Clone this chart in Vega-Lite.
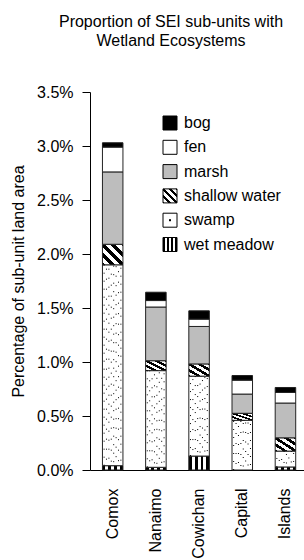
{
  "$schema": "https://vega.github.io/schema/vega-lite/v6.json",
  "autosize": "none",
  "width": 214,
  "height": 378,
  "padding": {"left": 90, "top": 92, "right": 0, "bottom": 90},
  "background": "white",
  "title": {
    "text": ["Proportion of SEI sub-units with", "Wetland Ecosystems"],
    "font": "Liberation Sans",
    "fontSize": 16,
    "fontWeight": "normal",
    "color": "black",
    "anchor": "middle",
    "frame": "group",
    "dx": -26,
    "offset": 35,
    "lineHeight": 19
  },
  "config": {
    "view": {"stroke": null},
    "axis": {
      "labelFont": "Liberation Sans",
      "labelFontSize": 16,
      "labelColor": "black",
      "titleFont": "Liberation Sans",
      "titleFontSize": 16,
      "titleFontWeight": "normal",
      "titleColor": "black",
      "domainColor": "black",
      "tickColor": "black",
      "grid": false
    },
    "legend": {
      "labelFont": "Liberation Sans",
      "labelFontSize": 16,
      "labelColor": "black"
    }
  },
  "data": {
    "values": [
      {"unit": "Comox", "type": "wet meadow", "value": 0.04},
      {"unit": "Comox", "type": "swamp", "value": 1.86},
      {"unit": "Comox", "type": "shallow water", "value": 0.19},
      {"unit": "Comox", "type": "marsh", "value": 0.67},
      {"unit": "Comox", "type": "fen", "value": 0.23},
      {"unit": "Comox", "type": "bog", "value": 0.04},
      {"unit": "Nanaimo", "type": "wet meadow", "value": 0.025},
      {"unit": "Nanaimo", "type": "swamp", "value": 0.895},
      {"unit": "Nanaimo", "type": "shallow water", "value": 0.092},
      {"unit": "Nanaimo", "type": "marsh", "value": 0.497},
      {"unit": "Nanaimo", "type": "fen", "value": 0.06},
      {"unit": "Nanaimo", "type": "bog", "value": 0.077},
      {"unit": "Cowichan", "type": "wet meadow", "value": 0.129},
      {"unit": "Cowichan", "type": "swamp", "value": 0.74},
      {"unit": "Cowichan", "type": "shallow water", "value": 0.113},
      {"unit": "Cowichan", "type": "marsh", "value": 0.347},
      {"unit": "Cowichan", "type": "fen", "value": 0.068},
      {"unit": "Cowichan", "type": "bog", "value": 0.077},
      {"unit": "Capital", "type": "swamp", "value": 0.46},
      {"unit": "Capital", "type": "shallow water", "value": 0.065},
      {"unit": "Capital", "type": "marsh", "value": 0.178},
      {"unit": "Capital", "type": "fen", "value": 0.129},
      {"unit": "Capital", "type": "bog", "value": 0.043},
      {"unit": "Islands", "type": "wet meadow", "value": 0.028},
      {"unit": "Islands", "type": "swamp", "value": 0.147},
      {"unit": "Islands", "type": "shallow water", "value": 0.123},
      {"unit": "Islands", "type": "marsh", "value": 0.322},
      {"unit": "Islands", "type": "fen", "value": 0.098},
      {"unit": "Islands", "type": "bog", "value": 0.046}
    ]
  },
  "transform": [
    {"stack": "value", "groupby": ["unit"], "sort": [{"field": "type", "order": "descending"}], "as": ["v0", "v1"]}
  ],
  "encoding": {
    "x": {
      "field": "unit",
      "type": "nominal",
      "sort": ["Comox", "Nanaimo", "Cowichan", "Capital", "Islands"],
      "scale": {"paddingInner": 0.525, "paddingOuter": 0.24, "align": 0.6},
      "axis": {"title": null, "labelAngle": -90, "ticks": false, "labelPadding": 18, "domainWidth": 1}
    },
    "y": {
      "field": "v0",
      "type": "quantitative",
      "scale": {"domain": [0, 3.5], "nice": false, "zero": true},
      "axis": {
        "title": "Percentage of sub-unit land area",
        "values": [0, 0.5, 1, 1.5, 2, 2.5, 3, 3.5],
        "labelExpr": "format(datum.value, '.1f') + '%'",
        "tickSize": 8,
        "labelPadding": 9,
        "titlePadding": 10
      }
    },
    "y2": {"field": "v1"}
  },
  "layer": [
    {
      "mark": {"type": "bar", "stroke": "#222", "strokeWidth": 1},
      "encoding": {
        "color": {
          "condition": {"test": "datum.type === 'swamp'", "value": "white"},
          "field": "type",
          "type": "nominal",
          "scale": {
            "domain": ["bog", "fen", "marsh", "shallow water", "swamp", "wet meadow"],
            "range": [
              "black",
              "white",
              "#bdbdbd",
              {"expr": "{gradient: 'linear', x1: 0, y1: 1, x2: 1, y2: 0, stops: [{offset: 0, color: 'black'}, {offset: 0.06, color: 'black'}, {offset: 0.06, color: 'white'}, {offset: 0.19, color: 'white'}, {offset: 0.19, color: 'black'}, {offset: 0.31, color: 'black'}, {offset: 0.31, color: 'white'}, {offset: 0.44, color: 'white'}, {offset: 0.44, color: 'black'}, {offset: 0.56, color: 'black'}, {offset: 0.56, color: 'white'}, {offset: 0.69, color: 'white'}, {offset: 0.69, color: 'black'}, {offset: 0.81, color: 'black'}, {offset: 0.81, color: 'white'}, {offset: 0.94, color: 'white'}, {offset: 0.94, color: 'black'}, {offset: 1, color: 'black'}]}"},
              {"expr": "{gradient: 'radial', x1: 0.5, y1: 0.5, r1: 0, x2: 0.5, y2: 0.5, r2: 0.5, stops: [{offset: 0, color: 'black'}, {offset: 0.16, color: 'black'}, {offset: 0.16, color: 'white'}, {offset: 1, color: 'white'}]}"},
              {"expr": "{gradient: 'linear', x1: 0, y1: 0, x2: 1, y2: 0, stops: [{offset: 0, color: 'black'}, {offset: 0.143, color: 'black'}, {offset: 0.143, color: 'white'}, {offset: 0.286, color: 'white'}, {offset: 0.286, color: 'black'}, {offset: 0.429, color: 'black'}, {offset: 0.429, color: 'white'}, {offset: 0.571, color: 'white'}, {offset: 0.571, color: 'black'}, {offset: 0.714, color: 'black'}, {offset: 0.714, color: 'white'}, {offset: 0.857, color: 'white'}, {offset: 0.857, color: 'black'}, {offset: 1, color: 'black'}]}"}
            ]
          },
          "legend": {
            "title": null,
            "orient": "none",
            "legendX": 72,
            "legendY": 23,
            "symbolType": "square",
            "symbolSize": 196,
            "symbolStrokeColor": "black",
            "symbolStrokeWidth": 1,
            "symbolOpacity": 1,
            "labelOffset": 6,
            "rowPadding": 6.3
          }
        }
      }
    },
    {
      "transform": [{"filter": "datum.type === 'swamp'"}],
      "mark": {"type": "rule", "color": "black", "xOffset": -8.6, "strokeWidth": 1, "strokeDash": [1, 7], "strokeDashOffset": 0}
    },
    {
      "transform": [{"filter": "datum.type === 'swamp'"}],
      "mark": {"type": "rule", "color": "black", "xOffset": -6.2, "strokeWidth": 1, "strokeDash": [1, 9], "strokeDashOffset": 4}
    },
    {
      "transform": [{"filter": "datum.type === 'swamp'"}],
      "mark": {"type": "rule", "color": "black", "xOffset": -3.8, "strokeWidth": 1, "strokeDash": [1, 8], "strokeDashOffset": 2}
    },
    {
      "transform": [{"filter": "datum.type === 'swamp'"}],
      "mark": {"type": "rule", "color": "black", "xOffset": -1.4, "strokeWidth": 1, "strokeDash": [1, 10], "strokeDashOffset": 7}
    },
    {
      "transform": [{"filter": "datum.type === 'swamp'"}],
      "mark": {"type": "rule", "color": "black", "xOffset": 1.0, "strokeWidth": 1, "strokeDash": [1, 7.5], "strokeDashOffset": 5}
    },
    {
      "transform": [{"filter": "datum.type === 'swamp'"}],
      "mark": {"type": "rule", "color": "black", "xOffset": 3.4, "strokeWidth": 1, "strokeDash": [1, 8.5], "strokeDashOffset": 1}
    },
    {
      "transform": [{"filter": "datum.type === 'swamp'"}],
      "mark": {"type": "rule", "color": "black", "xOffset": 5.8, "strokeWidth": 1, "strokeDash": [1, 9.5], "strokeDashOffset": 6}
    },
    {
      "transform": [{"filter": "datum.type === 'swamp'"}],
      "mark": {"type": "rule", "color": "black", "xOffset": 8.2, "strokeWidth": 1, "strokeDash": [1, 7], "strokeDashOffset": 3}
    }
  ]
}
